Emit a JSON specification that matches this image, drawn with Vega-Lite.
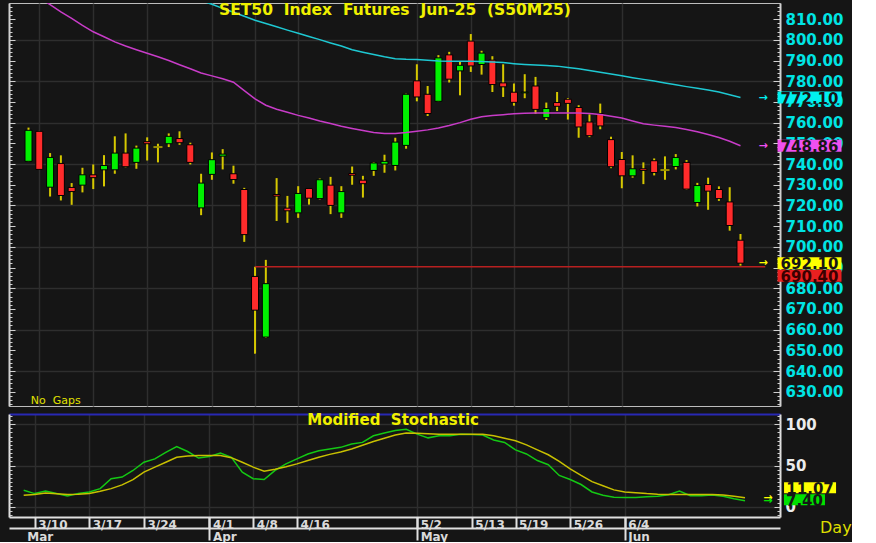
{
"$schema": "https://vega.github.io/schema/vega-lite/v6.json",
"background": "#151515",
"padding": {"left": 8, "top": 2, "right": 0, "bottom": 0},
"spacing": 8,
"bounds": "flush",
"config": {"view": {"stroke": null}, "font": "DejaVu Sans", "axis": {"labelFont": "DejaVu Sans", "labelFontWeight": "bold", "labelOverlap": false, "labelFlush": false, "labelBound": false, "gridColor": "#2e2e2e", "gridWidth": 1.5, "domainColor": "#d0d0d0", "tickColor": "#d0d0d0"}},
"datasets": {
"c": [
{"i":0,"date":"3/7","open":741.3,"high":757.6,"low":741.0,"close":756.3,"ma1":850,"ma2":824,"k":20,"d":14},
{"i":1,"date":"3/10","open":755.8,"high":756.0,"low":737.2,"close":737.4,"ma1":848,"ma2":820.5,"k":16,"d":15},
{"i":2,"date":"3/11","open":728.8,"high":745.3,"low":724.3,"close":743.2,"ma1":846,"ma2":817,"k":19,"d":16.8},
{"i":3,"date":"3/12","open":740.3,"high":744.2,"low":722.4,"close":724.8,"ma1":844,"ma2":813.5,"k":16,"d":15.8},
{"i":4,"date":"3/13","open":728.7,"high":730.8,"low":720.3,"close":726.7,"ma1":842,"ma2":810.4,"k":13,"d":14.9},
{"i":5,"date":"3/14","open":729.8,"high":738.2,"low":726.3,"close":734.8,"ma1":840,"ma2":807,"k":16,"d":15.2},
{"i":6,"date":"3/17","open":734.8,"high":739.8,"low":727.9,"close":733.4,"ma1":838,"ma2":803.9,"k":18,"d":16},
{"i":7,"date":"3/18","open":737.2,"high":744.3,"low":729.2,"close":739.3,"ma1":836,"ma2":801.5,"k":22,"d":18.8},
{"i":8,"date":"3/19","open":737.2,"high":753.4,"low":735.3,"close":745.3,"ma1":834,"ma2":799,"k":34,"d":22},
{"i":9,"date":"3/20","open":745.3,"high":754.8,"low":738.4,"close":738.7,"ma1":832,"ma2":797,"k":36,"d":26.5},
{"i":10,"date":"3/21","open":740.8,"high":748.9,"low":737.7,"close":747.7,"ma1":830,"ma2":795.2,"k":44,"d":33},
{"i":11,"date":"3/24","open":750.8,"high":752.9,"low":741.7,"close":749.8,"ma1":828,"ma2":793.5,"k":54,"d":42},
{"i":12,"date":"3/25","open":748.2,"high":749.8,"low":740.8,"close":748.2,"ma1":826,"ma2":791.8,"k":58,"d":48},
{"i":13,"date":"3/26","open":749.8,"high":754.8,"low":748.2,"close":753.4,"ma1":824,"ma2":790,"k":66,"d":54},
{"i":14,"date":"3/27","open":752.3,"high":755.8,"low":749.3,"close":750.3,"ma1":822,"ma2":788,"k":73,"d":60},
{"i":15,"date":"3/28","open":749.3,"high":750.3,"low":739.8,"close":740.8,"ma1":820.5,"ma2":786,"k":67,"d":61.5},
{"i":16,"date":"3/31","open":718.8,"high":735.3,"low":715.3,"close":730.8,"ma1":819,"ma2":784,"k":59,"d":62},
{"i":17,"date":"4/1","open":735.0,"high":745.6,"low":732.4,"close":742.1,"ma1":817.2,"ma2":782.6,"k":61,"d":62},
{"i":18,"date":"4/2","open":743.8,"high":747.2,"low":737.4,"close":744.8,"ma1":815.2,"ma2":781.2,"k":65,"d":62},
{"i":19,"date":"4/3","open":735.3,"high":739.2,"low":730.5,"close":732.5,"ma1":813.3,"ma2":779.5,"k":60,"d":59.5},
{"i":20,"date":"4/4","open":727.7,"high":728.5,"low":702.4,"close":705.9,"ma1":811.4,"ma2":775.5,"k":42,"d":54},
{"i":21,"date":"4/8","open":685.7,"high":690.4,"low":648.4,"close":669.4,"ma1":809.5,"ma2":771.5,"k":34,"d":48},
{"i":22,"date":"4/9","open":656.4,"high":693.7,"low":656.0,"close":682.2,"ma1":807.9,"ma2":768.4,"k":33,"d":43},
{"i":23,"date":"4/10","open":725.3,"high":733.2,"low":712.5,"close":724.5,"ma1":806.3,"ma2":766.5,"k":44,"d":45.5},
{"i":24,"date":"4/11","open":718.7,"high":724.6,"low":711.6,"close":717.4,"ma1":804.7,"ma2":765,"k":52,"d":48.5},
{"i":25,"date":"4/16","open":716.4,"high":729.3,"low":714.0,"close":725.8,"ma1":803.2,"ma2":763.5,"k":58,"d":52},
{"i":26,"date":"4/17","open":728.2,"high":728.4,"low":720.4,"close":723.5,"ma1":801.6,"ma2":762.2,"k":64,"d":56},
{"i":27,"date":"4/18","open":723.3,"high":733.0,"low":722.9,"close":732.4,"ma1":800.1,"ma2":760.8,"k":68,"d":60},
{"i":28,"date":"4/21","open":729.8,"high":733.8,"low":715.8,"close":720.0,"ma1":798.5,"ma2":759.6,"k":70,"d":63.5},
{"i":29,"date":"4/22","open":716.4,"high":729.3,"low":714.0,"close":726.7,"ma1":797,"ma2":758.3,"k":72,"d":66.5},
{"i":30,"date":"4/23","open":735.4,"high":738.8,"low":730.0,"close":734.6,"ma1":795.2,"ma2":757.2,"k":76,"d":70},
{"i":31,"date":"4/24","open":732.2,"high":734.3,"low":723.8,"close":730.5,"ma1":794,"ma2":756.2,"k":78,"d":74.5},
{"i":32,"date":"4/25","open":736.9,"high":740.9,"low":734.3,"close":740.5,"ma1":792.9,"ma2":755.2,"k":86,"d":79},
{"i":33,"date":"4/28","open":740.0,"high":744.5,"low":735.8,"close":741.3,"ma1":791.8,"ma2":754.7,"k":89.5,"d":83},
{"i":34,"date":"4/29","open":739.3,"high":752.7,"low":736.9,"close":750.6,"ma1":790.9,"ma2":754.8,"k":92.5,"d":87},
{"i":35,"date":"4/30","open":749.0,"high":774.0,"low":747.4,"close":773.7,"ma1":790.6,"ma2":755.2,"k":94,"d":89.5},
{"i":36,"date":"5/2","open":780.2,"high":788.2,"low":770.3,"close":772.4,"ma1":790.5,"ma2":755.8,"k":88,"d":89},
{"i":37,"date":"5/6","open":773.7,"high":777.7,"low":763.2,"close":764.4,"ma1":790.2,"ma2":756.5,"k":83.5,"d":88.5},
{"i":38,"date":"5/7","open":770.3,"high":792.6,"low":770.0,"close":791.3,"ma1":789.8,"ma2":757.4,"k":86,"d":88},
{"i":39,"date":"5/8","open":792.75,"high":794.2,"low":779.4,"close":781.0,"ma1":789.7,"ma2":758.6,"k":86,"d":88},
{"i":40,"date":"5/9","open":785.0,"high":789.4,"low":773.2,"close":787.7,"ma1":789.7,"ma2":760,"k":88,"d":88},
{"i":41,"date":"5/13","open":799.4,"high":802.8,"low":784.5,"close":787.4,"ma1":789.7,"ma2":761.6,"k":87.5,"d":88},
{"i":42,"date":"5/14","open":788.1,"high":794.7,"low":783.2,"close":793.6,"ma1":789.5,"ma2":762.8,"k":87,"d":88},
{"i":43,"date":"5/15","open":790.2,"high":792.1,"low":774.8,"close":778.4,"ma1":789.3,"ma2":763.4,"k":81,"d":86},
{"i":44,"date":"5/16","open":779.2,"high":788.2,"low":772.4,"close":777.3,"ma1":789,"ma2":763.8,"k":78,"d":83},
{"i":45,"date":"5/19","open":774.7,"high":778.9,"low":768.2,"close":769.8,"ma1":788.5,"ma2":764.3,"k":69,"d":80},
{"i":46,"date":"5/20","open":774.4,"high":783.4,"low":771.8,"close":774.8,"ma1":788.1,"ma2":764.5,"k":64,"d":75},
{"i":47,"date":"5/21","open":777.7,"high":782.1,"low":764.2,"close":766.4,"ma1":787.8,"ma2":764.6,"k":56,"d":69},
{"i":48,"date":"5/22","open":762.4,"high":769.7,"low":761.3,"close":766.8,"ma1":787.6,"ma2":764.6,"k":51,"d":63},
{"i":49,"date":"5/23","open":769.7,"high":774.8,"low":765.6,"close":767.9,"ma1":787.3,"ma2":764.6,"k":38,"d":55},
{"i":50,"date":"5/26","open":771.3,"high":771.9,"low":761.5,"close":769.3,"ma1":786.6,"ma2":764.7,"k":33,"d":46},
{"i":51,"date":"5/27","open":767.3,"high":768.4,"low":752.7,"close":757.9,"ma1":786,"ma2":764.7,"k":27,"d":38},
{"i":52,"date":"5/28","open":760.3,"high":764.0,"low":753.0,"close":753.7,"ma1":785.2,"ma2":764.4,"k":18,"d":30.5},
{"i":53,"date":"5/29","open":764.4,"high":769.2,"low":756.8,"close":758.4,"ma1":784.3,"ma2":763.9,"k":14,"d":25.5},
{"i":54,"date":"5/30","open":751.8,"high":753.2,"low":738.0,"close":738.7,"ma1":783.5,"ma2":763.1,"k":11.5,"d":20.5},
{"i":55,"date":"6/4","open":742.2,"high":745.8,"low":728.3,"close":734.3,"ma1":782.6,"ma2":762.2,"k":11.3,"d":18},
{"i":56,"date":"6/5","open":734.3,"high":744.2,"low":733.4,"close":737.7,"ma1":781.7,"ma2":760.8,"k":11.3,"d":17},
{"i":57,"date":"6/6","open":737.7,"high":740.8,"low":730.3,"close":736.9,"ma1":780.9,"ma2":759.5,"k":12.2,"d":16},
{"i":58,"date":"6/9","open":741.6,"high":742.7,"low":734.5,"close":735.9,"ma1":780.1,"ma2":758.8,"k":12.8,"d":15.3},
{"i":59,"date":"6/10","open":737.1,"high":743.7,"low":732.4,"close":737.1,"ma1":779.2,"ma2":758.2,"k":14.6,"d":15},
{"i":60,"date":"6/11","open":738.8,"high":744.8,"low":737.4,"close":743.2,"ma1":778.3,"ma2":757.6,"k":19.2,"d":14.9},
{"i":61,"date":"6/12","open":740.8,"high":741.9,"low":727.6,"close":727.9,"ma1":777.4,"ma2":756.7,"k":13.4,"d":14.9},
{"i":62,"date":"6/13","open":721.4,"high":730.9,"low":719.5,"close":729.6,"ma1":776.6,"ma2":755.6,"k":13.4,"d":14.9},
{"i":63,"date":"6/16","open":730.1,"high":733.4,"low":717.9,"close":726.9,"ma1":775.8,"ma2":754.3,"k":14.4,"d":14.9},
{"i":64,"date":"6/17","open":727.7,"high":729.2,"low":722.2,"close":723.3,"ma1":774.8,"ma2":752.8,"k":12.8,"d":14.2},
{"i":65,"date":"6/18","open":721.7,"high":728.8,"low":707.8,"close":710.3,"ma1":773.5,"ma2":751,"k":9.8,"d":12.8},
{"i":66,"date":"6/19","open":703.2,"high":706.2,"low":690.9,"close":692.1,"ma1":772.1,"ma2":748.86,"k":7.4,"d":11.07}
],
"lab": [{"k":"ma1","v":772.10},{"k":"ma2","v":748.86},{"k":"last","v":692.10},{"k":"sup","v":690.40}],
"slab": [{"k":"d","v":11.07},{"k":"k","v":7.40}],
"support": [{"i":21,"v":690.4}]
},
"vconcat": [
{
"width": 771, "height": 403,
"data": {"name": "c"},
"view": {"fill": "#151515", "stroke": "#bdbdbd", "strokeWidth": 1},
"resolve": {"axis": {"x": "independent", "y": "independent"}},
"layer": [
{"mark": {"type": "rule", "color": "#d6c800", "strokeWidth": 2},
 "encoding": {
  "x": {"field": "i", "type": "quantitative", "scale": {"domain": [-1.345, 69.2], "nice": false, "zero": false}, "axis": {"orient": "bottom", "values": [1,6,11,17,21,25,36,41,45,50,55], "grid": true, "labels": false, "ticks": false, "domain": false, "title": null}},
  "y": {"field": "low", "type": "quantitative", "scale": {"domain": [623.1, 817.8], "nice": false, "zero": false}, "axis": {"orient": "left", "values": [630,640,650,660,670,680,690,700,710,720,730,740,750,760,770,780,790,800,810], "tickSize": -6, "labels": false, "domain": true, "domainWidth": 2, "grid": false, "title": null}},
  "y2": {"field": "high"}}},
{"mark": {"type": "bar", "width": 7, "stroke": "#000000", "strokeWidth": 1},
 "encoding": {
  "x": {"field": "i", "type": "quantitative", "scale": {"domain": [-1.345, 69.2], "nice": false, "zero": false}, "axis": null},
  "y": {"field": "open", "type": "quantitative", "scale": {"domain": [623.1, 817.8], "nice": false, "zero": false}, "axis": {"orient": "left", "values": [624,626,628,630,632,634,636,638,640,642,644,646,648,650,652,654,656,658,660,662,664,666,668,670,672,674,676,678,680,682,684,686,688,690,692,694,696,698,700,702,704,706,708,710,712,714,716,718,720,722,724,726,728,730,732,734,736,738,740,742,744,746,748,750,752,754,756,758,760,762,764,766,768,770,772,774,776,778,780,782,784,786,788,790,792,794,796,798,800,802,804,806,808,810,812,814,816], "tickSize": -3, "labels": false, "domain": false, "grid": false, "title": null}},
  "y2": {"field": "close"},
  "color": {"condition": [{"test": "datum.close > datum.open", "value": "#00f000"}, {"test": "datum.close == datum.open", "value": "#d6c800"}], "value": "#ff2b2b"}}},
{"transform": [{"filter": "datum.open == datum.close"}],
 "mark": {"type": "tick", "orient": "horizontal", "size": 9, "thickness": 2, "color": "#d6c800"},
 "encoding": {
  "x": {"field": "i", "type": "quantitative", "scale": {"domain": [-1.345, 69.2], "nice": false, "zero": false}, "axis": null},
  "y": {"field": "open", "type": "quantitative", "scale": {"domain": [623.1, 817.8], "nice": false, "zero": false}, "axis": {"orient": "right", "values": [630,640,650,660,670,680,690,700,710,720,730,740,750,760,770,780,790,800,810], "format": ".2f", "ticks": false, "labelColor": "#00e4e4", "labelFontSize": 15, "labelPadding": 5, "labelBaseline": "middle", "domain": true, "domainWidth": 2, "grid": false, "title": null}}}},
{"mark": {"type": "line", "color": "#1ec8d2", "strokeWidth": 1.5, "clip": true},
 "encoding": {
  "x": {"field": "i", "type": "quantitative", "scale": {"domain": [-1.345, 69.2], "nice": false, "zero": false}, "axis": null},
  "y": {"field": "ma1", "type": "quantitative", "scale": {"domain": [623.1, 817.8], "nice": false, "zero": false}, "axis": {"orient": "right", "values": [630,640,650,660,670,680,690,700,710,720,730,740,750,760,770,780,790,800,810], "tickSize": -7, "labels": false, "domain": false, "grid": false, "title": null}}}},
{"mark": {"type": "line", "color": "#c83cc8", "strokeWidth": 1.5, "clip": true},
 "encoding": {
  "x": {"field": "i", "type": "quantitative", "scale": {"domain": [-1.345, 69.2], "nice": false, "zero": false}, "axis": null},
  "y": {"field": "ma2", "type": "quantitative", "scale": {"domain": [623.1, 817.8], "nice": false, "zero": false}, "axis": {"orient": "right", "values": [624,626,628,630,632,634,636,638,640,642,644,646,648,650,652,654,656,658,660,662,664,666,668,670,672,674,676,678,680,682,684,686,688,690,692,694,696,698,700,702,704,706,708,710,712,714,716,718,720,722,724,726,728,730,732,734,736,738,740,742,744,746,748,750,752,754,756,758,760,762,764,766,768,770,772,774,776,778,780,782,784,786,788,790,792,794,796,798,800,802,804,806,808,810,812,814,816], "tickSize": -3, "labels": false, "domain": false, "grid": false, "title": null}}}},
{"data": {"name": "support"},
 "mark": {"type": "rule", "color": "#b82020", "strokeWidth": 1.5},
 "encoding": {
  "x": {"field": "i", "type": "quantitative", "scale": {"domain": [-1.345, 69.2], "nice": false, "zero": false}, "axis": null},
  "x2": {"datum": 68.3},
  "y": {"field": "v", "type": "quantitative", "scale": {"domain": [623.1, 817.8], "nice": false, "zero": false}, "axis": {"orient": "left", "values": [640,660,680,700,720,740,760,780,800], "grid": true, "ticks": false, "labels": false, "domain": false, "title": null}}}},
{"data": {"name": "lab"},
 "transform": [{"filter": "datum.k != 'sup'"}],
 "mark": {"type": "text", "text": "→", "fontSize": 11, "fontWeight": "bold", "align": "center", "baseline": "middle"},
 "encoding": {
  "x": {"datum": 68.1, "type": "quantitative", "scale": {"domain": [-1.345, 69.2], "nice": false, "zero": false}, "axis": null},
  "y": {"field": "v", "type": "quantitative", "scale": {"domain": [623.1, 817.8], "nice": false, "zero": false}, "axis": null},
  "color": {"field": "k", "type": "nominal", "scale": {"domain": ["ma1","ma2","last","sup","d","k"], "range": ["#00f0f0","#f050f0","#ffff00","#e82020","#ffff00","#00e000"]}, "legend": null}}},
{"data": {"name": "lab"},
 "transform": [{"filter": "datum.k != 'sup'"}],
 "mark": {"type": "point", "shape": "M-1,-0.1875L1,-0.1875L1,0.1875L-1,0.1875Z", "size": 4096, "filled": true, "opacity": 1, "strokeWidth": 0},
 "encoding": {
  "x": {"datum": 72.4, "type": "quantitative", "scale": {"domain": [-1.345, 69.2], "nice": false, "zero": false}, "axis": null},
  "y": {"field": "v", "type": "quantitative", "scale": {"domain": [623.1, 817.8], "nice": false, "zero": false}, "axis": null},
  "color": {"field": "k", "type": "nominal", "scale": {"domain": ["ma1","ma2","last","sup","d","k"], "range": ["#00f0f0","#f050f0","#ffff00","#e82020","#ffff00","#00e000"]}, "legend": null}}},
{"data": {"name": "lab"},
 "transform": [{"filter": "datum.k == 'sup'"}],
 "mark": {"type": "point", "shape": "M-1,-0.1875L1,-0.1875L1,0.1875L-1,0.1875Z", "size": 4096, "filled": true, "opacity": 1, "strokeWidth": 0, "yOffset": 9},
 "encoding": {
  "x": {"datum": 72.4, "type": "quantitative", "scale": {"domain": [-1.345, 69.2], "nice": false, "zero": false}, "axis": null},
  "y": {"field": "v", "type": "quantitative", "scale": {"domain": [623.1, 817.8], "nice": false, "zero": false}, "axis": null},
  "color": {"field": "k", "type": "nominal", "scale": {"domain": ["ma1","ma2","last","sup","d","k"], "range": ["#00f0f0","#f050f0","#ffff00","#e82020","#ffff00","#00e000"]}, "legend": null}}},
{"data": {"name": "lab"},
 "transform": [{"filter": "datum.k != 'sup'"}],
 "mark": {"type": "text", "font": "DejaVu Sans", "fontSize": 15, "fontWeight": "bold", "color": "#161616", "align": "center", "baseline": "middle", "dy": 1},
 "encoding": {
  "x": {"datum": 72.4, "type": "quantitative", "scale": {"domain": [-1.345, 69.2], "nice": false, "zero": false}, "axis": null},
  "y": {"field": "v", "type": "quantitative", "scale": {"domain": [623.1, 817.8], "nice": false, "zero": false}, "axis": null},
  "text": {"field": "v", "type": "quantitative", "format": ".2f"}}},
{"data": {"name": "lab"},
 "transform": [{"filter": "datum.k == 'sup'"}],
 "mark": {"type": "text", "font": "DejaVu Sans", "fontSize": 15, "fontWeight": "bold", "color": "#3a0000", "align": "center", "baseline": "middle", "dy": 10},
 "encoding": {
  "x": {"datum": 72.4, "type": "quantitative", "scale": {"domain": [-1.345, 69.2], "nice": false, "zero": false}, "axis": null},
  "y": {"field": "v", "type": "quantitative", "scale": {"domain": [623.1, 817.8], "nice": false, "zero": false}, "axis": null},
  "text": {"field": "v", "type": "quantitative", "format": ".2f"}}},
{"data": {"values": [{}]},
 "mark": {"type": "text", "text": "SET50 \u00a0Index \u00a0Futures \u00a0Jun-25 \u00a0(S50M25)", "font": "DejaVu Sans", "fontSize": 15.5, "fontWeight": "bold", "color": "#f0f000", "align": "center", "baseline": "middle"},
 "encoding": {
  "x": {"datum": 33.97, "type": "quantitative", "scale": {"domain": [-1.345, 69.2], "nice": false, "zero": false}, "axis": null},
  "y": {"datum": 814.4, "type": "quantitative", "scale": {"domain": [623.1, 817.8], "nice": false, "zero": false}, "axis": null}}},
{"data": {"values": [{}]},
 "mark": {"type": "text", "text": "No \u00a0Gaps", "font": "DejaVu Sans", "fontSize": 11, "color": "#e0e000", "align": "left", "baseline": "middle"},
 "encoding": {
  "x": {"datum": 0.21, "type": "quantitative", "scale": {"domain": [-1.345, 69.2], "nice": false, "zero": false}, "axis": null},
  "y": {"datum": 625.5, "type": "quantitative", "scale": {"domain": [623.1, 817.8], "nice": false, "zero": false}, "axis": null}}}
]
},
{
"width": 771, "height": 103,
"data": {"name": "c"},
"view": {"fill": "#151515", "stroke": null},
"resolve": {"axis": {"x": "independent", "y": "independent"}},
"layer": [
{"mark": {"type": "line", "color": "#14c814", "strokeWidth": 1.5},
 "encoding": {
  "x": {"field": "i", "type": "quantitative", "scale": {"domain": [-1.345, 69.2], "nice": false, "zero": false}, "axis": {"orient": "bottom", "values": [0,1,6,11,17,21,25,36,41,45,50,55], "labelExpr": "datum.value==0?[' ','Mar']:datum.value==1?'3/10':datum.value==6?'3/17':datum.value==11?'3/24':datum.value==17?['4/1','Apr']:datum.value==21?'4/8':datum.value==25?'4/16':datum.value==36?['5/2','May']:datum.value==41?'5/13':datum.value==45?'5/19':datum.value==50?'5/26':datum.value==55?['6/4','Jun']:''", "labelAlign": "left", "labelBaseline": "top", "labelPadding": 2, "labelOffset": 3, "labelLineHeight": 12, "labelColor": "#dadada", "labelFontSize": 12, "ticks": false, "domain": true, "domainColor": "#e0e0e0", "domainWidth": 2, "grid": false, "title": null}},
  "y": {"field": "k", "type": "quantitative", "scale": {"domain": [-12.35, 112.4], "nice": false, "zero": false}, "axis": {"orient": "left", "values": [0,50,100], "tickSize": -6, "labels": false, "domain": true, "domainColor": "#e0e0e0", "domainWidth": 2, "grid": false, "title": null}}}},
{"mark": {"type": "line", "color": "#c8c000", "strokeWidth": 1.5},
 "encoding": {
  "x": {"field": "i", "type": "quantitative", "scale": {"domain": [-1.345, 69.2], "nice": false, "zero": false}, "axis": {"orient": "bottom", "values": [1,6,11,17,21,25,36,41,45,50,55], "tickSize": 11, "tickWidth": 2, "tickColor": "#e0e0e0", "labels": false, "domain": false, "grid": true, "title": null}},
  "y": {"field": "d", "type": "quantitative", "scale": {"domain": [-12.35, 112.4], "nice": false, "zero": false}, "axis": {"orient": "right", "values": [0,50,100], "ticks": false, "labelColor": "#ececec", "labelFontSize": 15, "labelPadding": 5, "labelBaseline": "middle", "domain": true, "domainColor": "#e0e0e0", "domainWidth": 2, "grid": true, "title": null}}}},
{"data": {"name": "slab"},
 "mark": {"type": "text", "text": "→", "fontSize": 11, "fontWeight": "bold", "align": "center", "baseline": "middle"},
 "encoding": {
  "x": {"datum": 68.1, "type": "quantitative", "scale": {"domain": [-1.345, 69.2], "nice": false, "zero": false}, "axis": {"orient": "bottom", "values": [17,36,55], "tickSize": 23, "tickWidth": 2, "tickColor": "#e0e0e0", "labels": false, "domain": false, "grid": false, "title": null}},
  "y": {"field": "v", "type": "quantitative", "scale": {"domain": [-12.35, 112.4], "nice": false, "zero": false}, "axis": {"orient": "right", "values": [-10,-5,0,5,10,15,20,25,30,35,40,45,50,55,60,65,70,75,80,85,90,95,100,105,110], "tickSize": -3, "labels": false, "domain": false, "grid": false, "title": null}},
  "color": {"field": "k", "type": "nominal", "scale": {"domain": ["ma1","ma2","last","sup","d","k"], "range": ["#00f0f0","#f050f0","#ffff00","#e82020","#ffff00","#00e000"]}, "legend": null}}},
{"data": {"name": "slab"},
 "transform": [{"filter": "datum.k == 'd'"}],
 "mark": {"type": "point", "shape": "M-1,-0.2115L1,-0.2115L1,0.2115L-1,0.2115Z", "size": 2704, "filled": true, "opacity": 1, "strokeWidth": 0, "yOffset": -10},
 "encoding": {
  "x": {"datum": 71.95, "type": "quantitative", "scale": {"domain": [-1.345, 69.2], "nice": false, "zero": false}, "axis": {"orient": "bottom", "offset": 11, "domain": true, "domainColor": "#e0e0e0", "domainWidth": 2, "ticks": false, "labels": false, "grid": false, "title": null}},
  "y": {"field": "v", "type": "quantitative", "scale": {"domain": [-12.35, 112.4], "nice": false, "zero": false}, "axis": {"orient": "right", "values": [0,50,100], "tickSize": -6, "labels": false, "domain": false, "grid": false, "title": null}},
  "color": {"field": "k", "type": "nominal", "scale": {"domain": ["ma1","ma2","last","sup","d","k"], "range": ["#00f0f0","#f050f0","#ffff00","#e82020","#ffff00","#00e000"]}, "legend": null}}},
{"data": {"name": "slab"},
 "transform": [{"filter": "datum.k == 'k'"}],
 "mark": {"type": "point", "shape": "M-1,-0.268L1,-0.268L1,0.268L-1,0.268Z", "size": 1681, "filled": true, "opacity": 1, "strokeWidth": 0, "yOffset": -1},
 "encoding": {
  "x": {"datum": 71.44, "type": "quantitative", "scale": {"domain": [-1.345, 69.2], "nice": false, "zero": false}, "axis": null},
  "y": {"field": "v", "type": "quantitative", "scale": {"domain": [-12.35, 112.4], "nice": false, "zero": false}, "axis": {"orient": "left", "values": [-10,-5,0,5,10,15,20,25,30,35,40,45,50,55,60,65,70,75,80,85,90,95,100,105,110], "tickSize": -3, "labels": false, "domain": false, "grid": false, "title": null}},
  "color": {"field": "k", "type": "nominal", "scale": {"domain": ["ma1","ma2","last","sup","d","k"], "range": ["#00f0f0","#f050f0","#ffff00","#e82020","#ffff00","#00e000"]}, "legend": null}}},
{"data": {"name": "slab"},
 "transform": [{"filter": "datum.k == 'd'"}],
 "mark": {"type": "text", "font": "DejaVu Sans", "fontSize": 15, "fontWeight": "bold", "color": "#161616", "align": "center", "baseline": "middle", "dy": -9},
 "encoding": {
  "x": {"datum": 71.95, "type": "quantitative", "scale": {"domain": [-1.345, 69.2], "nice": false, "zero": false}, "axis": null},
  "y": {"field": "v", "type": "quantitative", "scale": {"domain": [-12.35, 112.4], "nice": false, "zero": false}, "axis": null},
  "text": {"field": "v", "type": "quantitative", "format": ".2f"}}},
{"data": {"name": "slab"},
 "transform": [{"filter": "datum.k == 'k'"}],
 "mark": {"type": "text", "font": "DejaVu Sans", "fontSize": 15, "fontWeight": "bold", "color": "#161616", "align": "center", "baseline": "middle", "dy": 0},
 "encoding": {
  "x": {"datum": 71.44, "type": "quantitative", "scale": {"domain": [-1.345, 69.2], "nice": false, "zero": false}, "axis": null},
  "y": {"field": "v", "type": "quantitative", "scale": {"domain": [-12.35, 112.4], "nice": false, "zero": false}, "axis": null},
  "text": {"field": "v", "type": "quantitative", "format": ".2f"}}},
{"data": {"values": [{}]},
 "mark": {"type": "text", "text": "Modified \u00a0Stochastic", "font": "DejaVu Sans", "fontSize": 15, "fontWeight": "bold", "color": "#f0f000", "align": "center", "baseline": "middle"},
 "encoding": {
  "x": {"datum": 33.8, "type": "quantitative", "scale": {"domain": [-1.345, 69.2], "nice": false, "zero": false}, "axis": {"orient": "top", "domain": true, "domainColor": "#2828b4", "domainWidth": 2, "ticks": false, "labels": false, "grid": false, "title": null}},
  "y": {"datum": 105.2, "type": "quantitative", "scale": {"domain": [-12.35, 112.4], "nice": false, "zero": false}, "axis": null}}},
{"data": {"values": [{}]},
 "mark": {"type": "text", "text": "Day", "font": "DejaVu Sans", "fontSize": 16, "color": "#dede00", "align": "left", "baseline": "middle"},
 "encoding": {
  "x": {"datum": 72.86, "type": "quantitative", "scale": {"domain": [-1.345, 69.2], "nice": false, "zero": false}, "axis": null},
  "y": {"datum": -25.5, "type": "quantitative", "scale": {"domain": [-12.35, 112.4], "nice": false, "zero": false}, "axis": null}}}
]
}
]
}
